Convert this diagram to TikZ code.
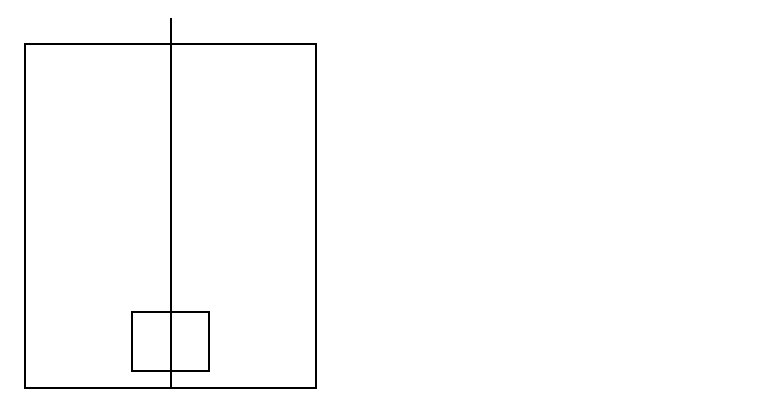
\documentclass[tikz,border=0pt]{standalone}
\begin{document}
\begin{tikzpicture}[x=1pt,y=-1pt]
\tikzset{wall/.style={draw=black,line width=2pt}}
\useasboundingbox (0,0) rectangle (768,400);
\coordinate (shaftTop) at (170.5,18);
\coordinate (shaftBot) at (170.5,388);
\draw[wall] (25,44) rectangle (316,388);
\draw[wall] (131.5,312) rectangle (209,370.5);
\draw[wall] (shaftTop) -- (shaftBot);
\end{tikzpicture}
\end{document}
